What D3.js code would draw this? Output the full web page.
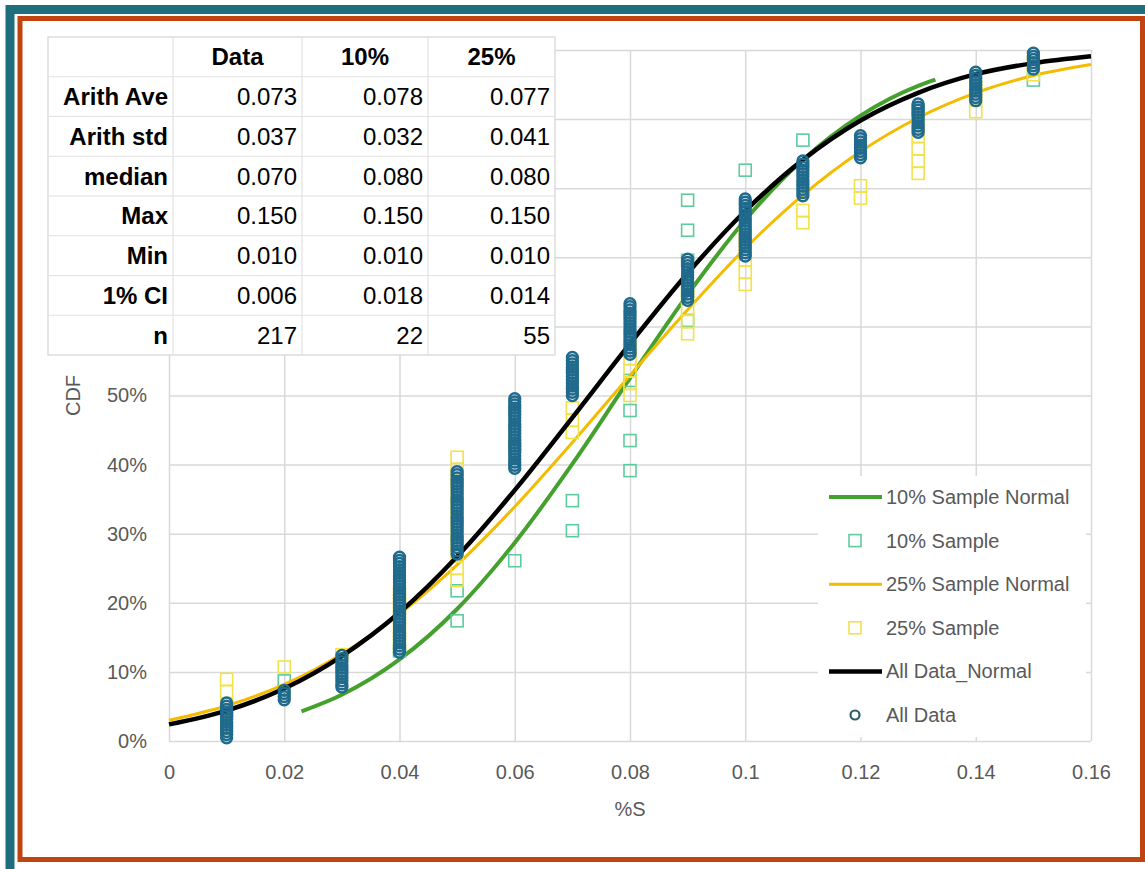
<!DOCTYPE html>
<meta charset="utf-8">
<style>
body { margin: 0; background: #fff; }
svg text { font-family: "Liberation Sans", Arial, sans-serif; }
.grid line { stroke: #d9d9d9; stroke-width: 1.5; }
.grid text { fill: #595959; font-size: 20px; }
.axis-title { fill: #595959; font-size: 20px; }
.legend text { fill: #595959; font-size: 20px; }
.tbl text { fill: #000; font-size: 24px; }
</style>
<body>
<svg width="1145" height="869"></svg>
<script src="https://d3js.org/d3.v7.min.js"></script>
<script>
// %S levels and how many points sit at each one
var levels = [0.01, 0.02, 0.03, 0.04, 0.05, 0.06, 0.07, 0.08, 0.09, 0.10, 0.11, 0.12, 0.13, 0.14, 0.15];
var allDataCounts = [12, 4, 11, 31, 27, 23, 13, 17, 14, 19, 12, 8, 10, 10, 6];
var sample10Counts = [1, 1, 0, 1, 2, 1, 2, 5, 5, 1, 1, 0, 1, 0, 1];
var sample25Counts = [5, 1, 1, 5, 11, 1, 3, 5, 4, 5, 2, 2, 5, 3, 2];

// fitted normal curves
var normX = [0, 0.01, 0.02, 0.03, 0.04, 0.05, 0.06, 0.07, 0.08, 0.09, 0.10, 0.11, 0.12, 0.13, 0.14, 0.15, 0.16];
var allNormal = [0.024, 0.044, 0.076, 0.123, 0.186, 0.267, 0.363, 0.468, 0.575, 0.677, 0.767, 0.841, 0.898, 0.938, 0.965, 0.981, 0.991];
var s25Normal = [0.030, 0.051, 0.082, 0.126, 0.184, 0.255, 0.339, 0.432, 0.529, 0.624, 0.713, 0.790, 0.853, 0.902, 0.938, 0.963, 0.979];
var s10X = [0.023, 0.03, 0.04, 0.05, 0.06, 0.07, 0.08, 0.09, 0.10, 0.11, 0.12, 0.13, 0.133];
var s10Normal = [0.043, 0.067, 0.118, 0.191, 0.287, 0.401, 0.525, 0.646, 0.754, 0.841, 0.905, 0.948, 0.957];

var xTicks = [0, 0.02, 0.04, 0.06, 0.08, 0.10, 0.12, 0.14, 0.16];
var yTicks = [0, 0.1, 0.2, 0.3, 0.4, 0.5, 0.6, 0.7, 0.8, 0.9, 1];
// labels above 50% sit under the stats table, so they are not shown
var yLabelTicks = [0, 0.1, 0.2, 0.3, 0.4, 0.5];

// stats table
var tableCols = ["Data", "10%", "25%"];
var tableRows = ["Arith Ave", "Arith std", "median", "Max", "Min", "1% CI", "n"];
var tableValues = [
  ["0.073", "0.078", "0.077"],
  ["0.037", "0.032", "0.041"],
  ["0.070", "0.080", "0.080"],
  ["0.150", "0.150", "0.150"],
  ["0.010", "0.010", "0.010"],
  ["0.006", "0.018", "0.014"],
  ["217", "22", "55"]
];

var colors = {
  g10: "#45a12e", sq10: "#5ecb9e",
  g25: "#f4bc00", sq25: "#f2e24a",
  all: "#000000", dots: "#1f6a8d"
};

var svg = d3.select("svg");

// frame
svg.append("rect").attr("x", 10).attr("y", 9.5).attr("width", 1160).attr("height", 880)
  .attr("fill", "none").attr("stroke", "#1f6e7e").attr("stroke-width", 9);
svg.append("rect").attr("x", 20).attr("y", 18.5).attr("width", 1122.5).attr("height", 841)
  .attr("fill", "#fff").attr("stroke", "#c0440f").attr("stroke-width", 5);

var x = d3.scaleLinear().domain([0, 0.16]).range([169, 1091]);
var y = d3.scaleLinear().domain([0, 1]).range([741, 50]);

// turn counts into ranked cdf points, rank/(n+1)
function cdfPoints(counts) {
  var n = d3.sum(counts), pts = [], k = 0;
  counts.forEach(function(c, i) {
    for (var j = 0; j < c; j++) {
      k++;
      pts.push({x: levels[i], p: k / (n + 1)});
    }
  });
  return pts;
}

// grid + tick labels
svg.append("g").attr("class", "grid")
  .attr("transform", "translate(0," + y(0) + ")")
  .call(d3.axisBottom(x).tickValues(xTicks).tickSize(-(y(0) - y(1))).tickPadding(24)
    .tickFormat(function(d) { return String(+d.toFixed(2)); }))
  .call(function(g) { g.select(".domain").remove(); })
  .attr("font-family", null).attr("font-size", null);

svg.append("g").attr("class", "grid")
  .attr("transform", "translate(" + x(0) + ",0)")
  .call(d3.axisLeft(y).tickValues(yTicks).tickSize(-(x(0.16) - x(0))).tickFormat(""))
  .call(function(g) { g.select(".domain").remove(); });

svg.append("g").attr("class", "grid")
  .attr("transform", "translate(" + x(0) + ",0)")
  .call(d3.axisLeft(y).tickValues(yLabelTicks).tickSize(0).tickPadding(22)
    .tickFormat(d3.format(".0%")))
  .call(function(g) { g.select(".domain").remove(); })
  .attr("font-family", null).attr("font-size", null);

svg.append("text").attr("class", "axis-title")
  .attr("transform", "translate(80," + (y(0.5)) + ") rotate(-90)")
  .attr("text-anchor", "middle").text("CDF");
svg.append("text").attr("class", "axis-title")
  .attr("x", x(0.08)).attr("y", 816).attr("text-anchor", "middle").text("%S");

var line = d3.line()
  .x(function(d) { return x(d[0]); })
  .y(function(d) { return y(d[1]); })
  .curve(d3.curveMonotoneX);

function drawSquares(pts, color) {
  svg.append("g").selectAll("rect").data(pts).enter().append("rect")
    .attr("x", function(d) { return x(d.x) - 6; })
    .attr("y", function(d) { return y(d.p) - 6; })
    .attr("width", 12).attr("height", 12)
    .attr("fill", "none").attr("stroke", color).attr("stroke-width", 1.6);
}

svg.append("path").datum(d3.zip(s10X, s10Normal)).attr("d", line)
  .attr("fill", "none").attr("stroke", colors.g10).attr("stroke-width", 4);
drawSquares(cdfPoints(sample10Counts), colors.sq10);

svg.append("path").datum(d3.zip(normX, s25Normal)).attr("d", line)
  .attr("fill", "none").attr("stroke", colors.g25).attr("stroke-width", 3);
drawSquares(cdfPoints(sample25Counts), colors.sq25);

svg.append("path").datum(d3.zip(normX, allNormal)).attr("d", line)
  .attr("fill", "none").attr("stroke", colors.all).attr("stroke-width", 4.5);

svg.append("g").selectAll("circle").data(cdfPoints(allDataCounts)).enter().append("circle")
  .attr("cx", function(d) { return x(d.x); })
  .attr("cy", function(d) { return y(d.p); })
  .attr("r", 5.4)
  .attr("fill", "none").attr("stroke", colors.dots).attr("stroke-width", 2.5);

// legend
var legendItems = [
  {name: "10% Sample Normal", type: "line", color: colors.g10, w: 4},
  {name: "10% Sample", type: "square", color: colors.sq10},
  {name: "25% Sample Normal", type: "line", color: colors.g25, w: 3},
  {name: "25% Sample", type: "square", color: colors.sq25},
  {name: "All Data_Normal", type: "line", color: colors.all, w: 4.5},
  {name: "All Data", type: "circle", color: "#2c5d6c"}
];
var legend = svg.append("g").attr("class", "legend");
legend.append("rect").attr("x", 818).attr("y", 476).attr("width", 268).attr("height", 261).attr("fill", "#fff");
legendItems.forEach(function(d, i) {
  var ly = 497 + i * 43.6;
  var g = legend.append("g");
  if (d.type == "line") {
    g.append("line").attr("x1", 829).attr("x2", 882).attr("y1", ly).attr("y2", ly)
      .attr("stroke", d.color).attr("stroke-width", d.w);
  } else if (d.type == "square") {
    g.append("rect").attr("x", 849).attr("y", ly - 6).attr("width", 12).attr("height", 12)
      .attr("fill", "none").attr("stroke", d.color).attr("stroke-width", 1.6);
  } else {
    g.append("circle").attr("cx", 855).attr("cy", ly).attr("r", 4.5)
      .attr("fill", "none").attr("stroke", d.color).attr("stroke-width", 2.2);
  }
  g.append("text").attr("x", 886).attr("y", ly + 7).text(d.name);
});

// table
var colEdges = [48, 173, 302, 428, 555];
var rowTop = 37, rowH = 39.75;
var tbl = svg.append("g").attr("class", "tbl");
tbl.append("rect").attr("x", colEdges[0]).attr("y", rowTop)
  .attr("width", colEdges[4] - colEdges[0]).attr("height", rowH * 8)
  .attr("fill", "#fff").attr("stroke", "#d4d4d4").attr("stroke-width", 1.2);
for (var r = 1; r < 8; r++) {
  tbl.append("line").attr("x1", colEdges[0]).attr("x2", colEdges[4])
    .attr("y1", rowTop + r * rowH).attr("y2", rowTop + r * rowH)
    .attr("stroke", "#e2e2e2").attr("stroke-width", 1.2);
}
colEdges.slice(1, 4).forEach(function(cx) {
  tbl.append("line").attr("x1", cx).attr("x2", cx).attr("y1", rowTop).attr("y2", rowTop + 8 * rowH)
    .attr("stroke", "#e2e2e2").attr("stroke-width", 1.2);
});
tableCols.forEach(function(c, j) {
  tbl.append("text").attr("x", (colEdges[j + 1] + colEdges[j + 2]) / 2)
    .attr("y", rowTop + rowH / 2 + 8.5).attr("text-anchor", "middle")
    .attr("font-weight", "bold").text(c);
});
tableRows.forEach(function(name, i) {
  var ty = rowTop + (i + 1.5) * rowH + 8.5;
  tbl.append("text").attr("x", colEdges[1] - 5).attr("y", ty)
    .attr("text-anchor", "end").attr("font-weight", "bold").text(name);
  tableValues[i].forEach(function(v, j) {
    tbl.append("text").attr("x", colEdges[j + 2] - 5).attr("y", ty)
      .attr("text-anchor", "end").text(v);
  });
});
</script>
</body>
